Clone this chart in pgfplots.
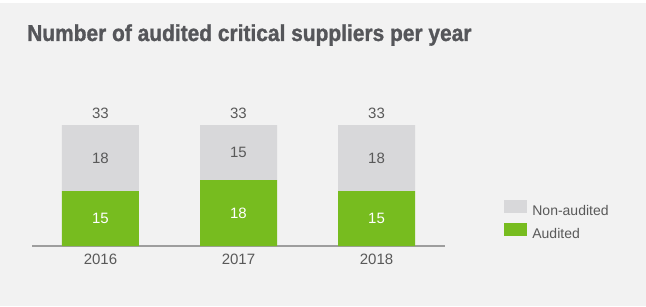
\documentclass[border=0pt]{standalone}
\usepackage{pgfplots}
\pgfplotsset{compat=1.18}
\usepackage{fontspec}
\setmainfont{Liberation Sans}
\newfontfamily\titlefont[FakeStretch=0.91, FakeBold=1.2]{Liberation Sans Bold}
\definecolor{bg}{HTML}{F2F2F2}
\definecolor{grn}{HTML}{77BC1F}
\definecolor{gbar}{HTML}{D8D8DA}
\definecolor{txt}{HTML}{595959}
\definecolor{ttl}{HTML}{55565A}
\definecolor{axl}{HTML}{9E9E9E}
\tikzset{lbl/.style={font=\fontsize{15}{18}\selectfont, anchor=center}}
\begin{document}
\begin{tikzpicture}
\fill[white] (0pt,0pt) rectangle (646pt,306pt);
\fill[bg] (0pt,0pt) rectangle (646pt,303pt);
\node[anchor=base west, inner sep=0pt, text=ttl, font=\titlefont\fontsize{23}{26}\selectfont] at (27pt,265pt) {Number of audited critical suppliers per year};
\begin{axis}[
  at={(32pt,60pt)}, anchor=south west,
  scale only axis, width=413pt, height=121pt,
  ybar stacked, bar width=77pt,
  xmin=-0.496, xmax=2.496, ymin=0, ymax=33,
  clip=false,
  axis x line=bottom, axis y line=none,
  x axis line style={-, draw=axl, line width=1.2pt},
  xtick=data, xticklabels={2016,2017,2018},
  major tick length=0pt,
  ytick=\empty,
  xticklabel style={anchor=base, yshift=-18.5pt, text=txt, font=\fontsize{15}{18}\selectfont},
  legend style={at={(1.136,0.21)}, anchor=west, draw=none, fill=none,
    font=\fontsize{14}{16}\selectfont, text=txt,
    nodes={inner sep=0pt, text height=10pt, text depth=3pt},
    row sep=5pt, column sep=5pt},
  legend cell align=left,
  reverse legend,
  legend image code/.code={\fill[#1] (0pt,-1.5pt) rectangle (23pt,11.5pt);},
]
\addplot[fill=grn, draw=none] coordinates {(0,15) (1,18) (2,15)};
\addplot[fill=gbar, draw=none] coordinates {(0,18) (1,15) (2,18)};
\legend{Audited, Non-audited}
\coordinate (a0) at (axis cs:0,7.5);
\coordinate (a1) at (axis cs:1,9);
\coordinate (a2) at (axis cs:2,7.5);
\coordinate (n0) at (axis cs:0,24);
\coordinate (n1) at (axis cs:1,25.5);
\coordinate (n2) at (axis cs:2,24);
\coordinate (t0) at (axis cs:0,36.3);
\coordinate (t1) at (axis cs:1,36.3);
\coordinate (t2) at (axis cs:2,36.3);
\end{axis}
\node[lbl, text=white] at (a0) {15};
\node[lbl, text=white] at (a1) {18};
\node[lbl, text=white] at (a2) {15};
\node[lbl, text=txt] at (n0) {18};
\node[lbl, text=txt] at (n1) {15};
\node[lbl, text=txt] at (n2) {18};
\node[lbl, text=txt] at (t0) {33};
\node[lbl, text=txt] at (t1) {33};
\node[lbl, text=txt] at (t2) {33};
\pgfresetboundingbox
\useasboundingbox (0pt,0pt) rectangle (646pt,306pt);
\end{tikzpicture}
\end{document}
